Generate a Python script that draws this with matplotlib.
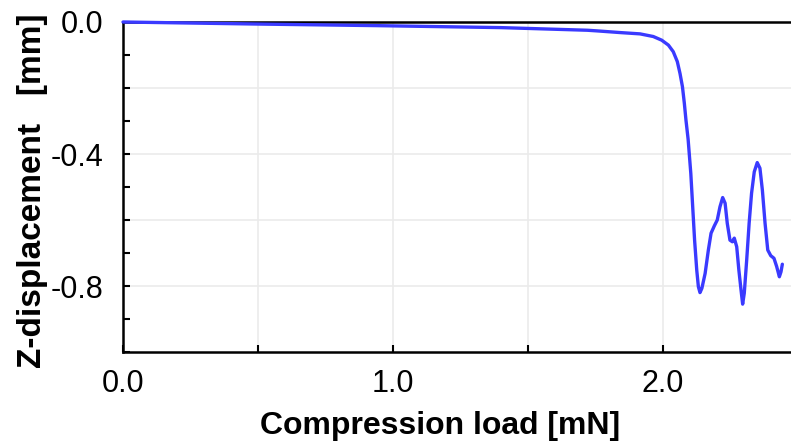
import matplotlib
matplotlib.use("Agg")
import matplotlib.pyplot as plt
import numpy as np

# curve (compression load [mN], z-displacement [mm])
load = [0.0, 0.48, 0.94, 1.40, 1.72, 1.757, 1.841, 1.915, 1.964, 1.995,
        2.020, 2.038, 2.053, 2.063, 2.072, 2.079, 2.085, 2.093, 2.103, 2.110,
        2.117, 2.125, 2.131, 2.137, 2.144, 2.156, 2.168, 2.178, 2.190, 2.201,
        2.211, 2.221, 2.230, 2.238, 2.248, 2.257, 2.264, 2.273, 2.281, 2.289,
        2.295, 2.301, 2.310, 2.319, 2.328, 2.338, 2.349, 2.359, 2.368, 2.378,
        2.388, 2.399, 2.411, 2.421, 2.431, 2.437, 2.442]
zdisp = [0.0, -0.006, -0.011, -0.017, -0.025, -0.027, -0.032, -0.036, -0.044,
         -0.055, -0.070, -0.090, -0.120, -0.156, -0.196, -0.246, -0.297,
         -0.355, -0.459, -0.560, -0.661, -0.752, -0.802, -0.820, -0.807,
         -0.762, -0.691, -0.640, -0.618, -0.600, -0.560, -0.532, -0.549,
         -0.610, -0.661, -0.666, -0.655, -0.681, -0.752, -0.812, -0.855,
         -0.822, -0.721, -0.610, -0.519, -0.454, -0.426, -0.443, -0.509,
         -0.610, -0.691, -0.708, -0.716, -0.741, -0.772, -0.757, -0.734]

xticks = [0.0, 1.0, 2.0]
yticks = [0.0, -0.4, -0.8]

plt.rcParams["font.family"] = ["Liberation Sans", "DejaVu Sans"]

fig = plt.figure(figsize=(7.91, 4.43), dpi=100)
ax = fig.add_axes([123 / 791, 91 / 443, 668 / 791, 330 / 443])

ax.plot(load, zdisp, color="#3a3aff", lw=2.4, solid_joinstyle="round",
        solid_capstyle="round", zorder=3, clip_on=False)

ax.set_xlim(0, 668 / 270)
ax.set_ylim(-1.0, 0.0)

ax.set_xticks(np.arange(0, 2.5, 0.5), minor=True)
ax.set_xticks(xticks)
ax.set_xticklabels([f"{v:.1f}" for v in xticks])
ax.set_yticks(np.arange(-1.0, 0.01, 0.1), minor=True)
ax.set_yticks(yticks)
ax.set_yticklabels([f"{v:.1f}" for v in yticks])

ax.tick_params(which="both", direction="in", length=5, width=1.5,
               color="black", labelsize=22, pad=14)
ax.tick_params(axis="x", pad=12)

for v in np.arange(0.5, 2.5, 0.5):
    ax.axvline(v, color="#ebebeb", lw=1.2, zorder=0)
for v in np.arange(-0.8, 0.0, 0.2):
    ax.axhline(v, color="#ebebeb", lw=1.2, zorder=0)

for side in ["left", "bottom", "top"]:
    ax.spines[side].set_linewidth(1.8)
    ax.spines[side].set_color("black")
ax.spines["right"].set_visible(False)

ax.set_xlabel("Compression load [mN]", fontsize=23, fontweight="bold",
              va="baseline")
ax.xaxis.set_label_coords(0.4746, -0.2485)
ax.set_ylabel("Z-displacement   [mm]", fontsize=24, fontweight="bold")
ax.yaxis.set_label_coords(-0.112, 0.49)

fig.savefig("out.png", dpi=100)
